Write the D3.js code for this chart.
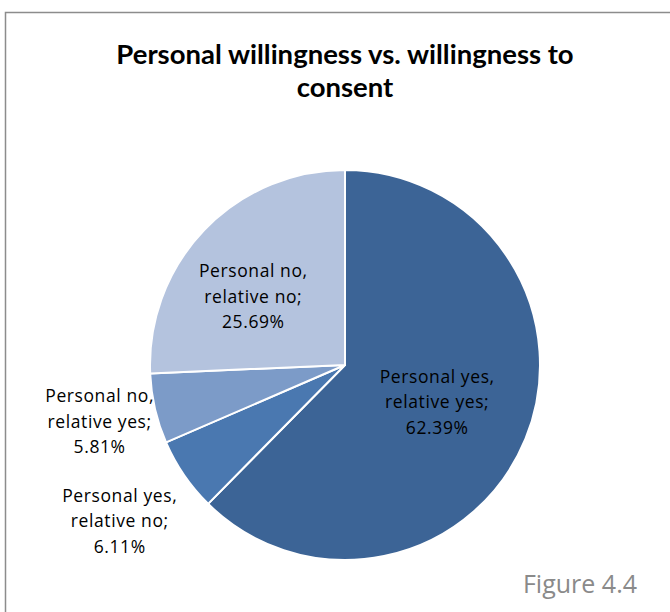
<!DOCTYPE html>
<html>
<head>
<meta charset="utf-8">
<script src="https://cdn.jsdelivr.net/npm/d3@7"></script>
<style>
  html, body { margin: 0; padding: 0; background: #fff; }
  svg { display: block; }
</style>
</head>
<body>
<div id="chart"></div>
<script>
// Slice data, clockwise from 12 o'clock
const categories = [
    ["Personal yes,", "relative yes;"],
    ["Personal yes,", "relative no;"],
    ["Personal no,", "relative yes;"],
    ["Personal no,", "relative no;"]
];
const shares = [62.39, 6.11, 5.81, 25.69];
const titleLines = ["Personal willingness vs. willingness to", "consent"];
const figureLabel = "Figure 4.4";

// styling
const colors = ["#3c6496", "#4a78b0", "#7c9bc8", "#b4c3de"];
// label distance from centre, as a fraction of the radius, plus a small nudge
const labelRadius = [0.50, 1.40, 1.27, 0.58];
const labelNudge = [[2, 0], [0, 2], [-4, 1], [-10, 10]];

const width = 670, height = 612;
const cx = 345, cy = 365, radius = 195;

const svg = d3.select("#chart").append("svg")
    .attr("width", width)
    .attr("height", height);

// outer frame of the chart area
svg.append("rect")
    .attr("x", 5.5).attr("y", 12.5)
    .attr("width", width).attr("height", height)
    .attr("fill", "none")
    .attr("stroke", "#8c8c8c")
    .attr("stroke-width", 1.5);

// title
svg.append("text")
    .attr("x", cx).attr("y", 64)
    .attr("text-anchor", "middle")
    .style("font-family", "Lato, 'Open Sans', sans-serif")
    .style("font-weight", "bold")
    .style("font-size", "27.5px")
    .selectAll("tspan")
    .data(titleLines)
    .join("tspan")
    .attr("x", cx)
    .attr("dy", (d, i) => i === 0 ? 0 : 33)
    .text(d => d);

const pie = d3.pie().sort(null).value(d => d)(shares);
const arc = d3.arc().innerRadius(0).outerRadius(radius);

const g = svg.append("g").attr("transform", `translate(${cx},${cy})`);

g.selectAll("path.slice")
    .data(pie)
    .join("path")
    .attr("class", "slice")
    .attr("d", arc)
    .attr("fill", (d, i) => colors[i])
    .attr("stroke", "#fff")
    .attr("stroke-width", 2)
    .attr("stroke-linejoin", "round");

// data labels: category + percentage, three lines
const labels = g.selectAll("text.label")
    .data(pie)
    .join("text")
    .attr("class", "label")
    .attr("text-anchor", "middle")
    .style("font-family", "'Open Sans', sans-serif")
    .style("font-size", "17.5px")
    .style("letter-spacing", "0.6px")
    .attr("fill", "#000")
    .attr("transform", (d, i) => {
        const r = radius * labelRadius[i];
        const c = d3.arc().innerRadius(r).outerRadius(r).centroid(d);
        return `translate(${c[0] + labelNudge[i][0]},${c[1] + labelNudge[i][1]})`;
    });

labels.each(function(d, i) {
    const lines = categories[i].concat([shares[i].toFixed(2) + "%"]);
    d3.select(this).selectAll("tspan")
        .data(lines)
        .join("tspan")
        .attr("x", 0)
        .attr("y", (t, j) => (j - 1) * 25.5)
        .attr("dy", "0.35em")
        .text(t => t);
});

// figure caption
svg.append("text")
    .attr("x", 637).attr("y", 593)
    .attr("text-anchor", "end")
    .style("font-family", "'Open Sans', sans-serif")
    .style("font-size", "25px")
    .attr("fill", "#8a8a8a")
    .text(figureLabel);
</script>
</body>
</html>
